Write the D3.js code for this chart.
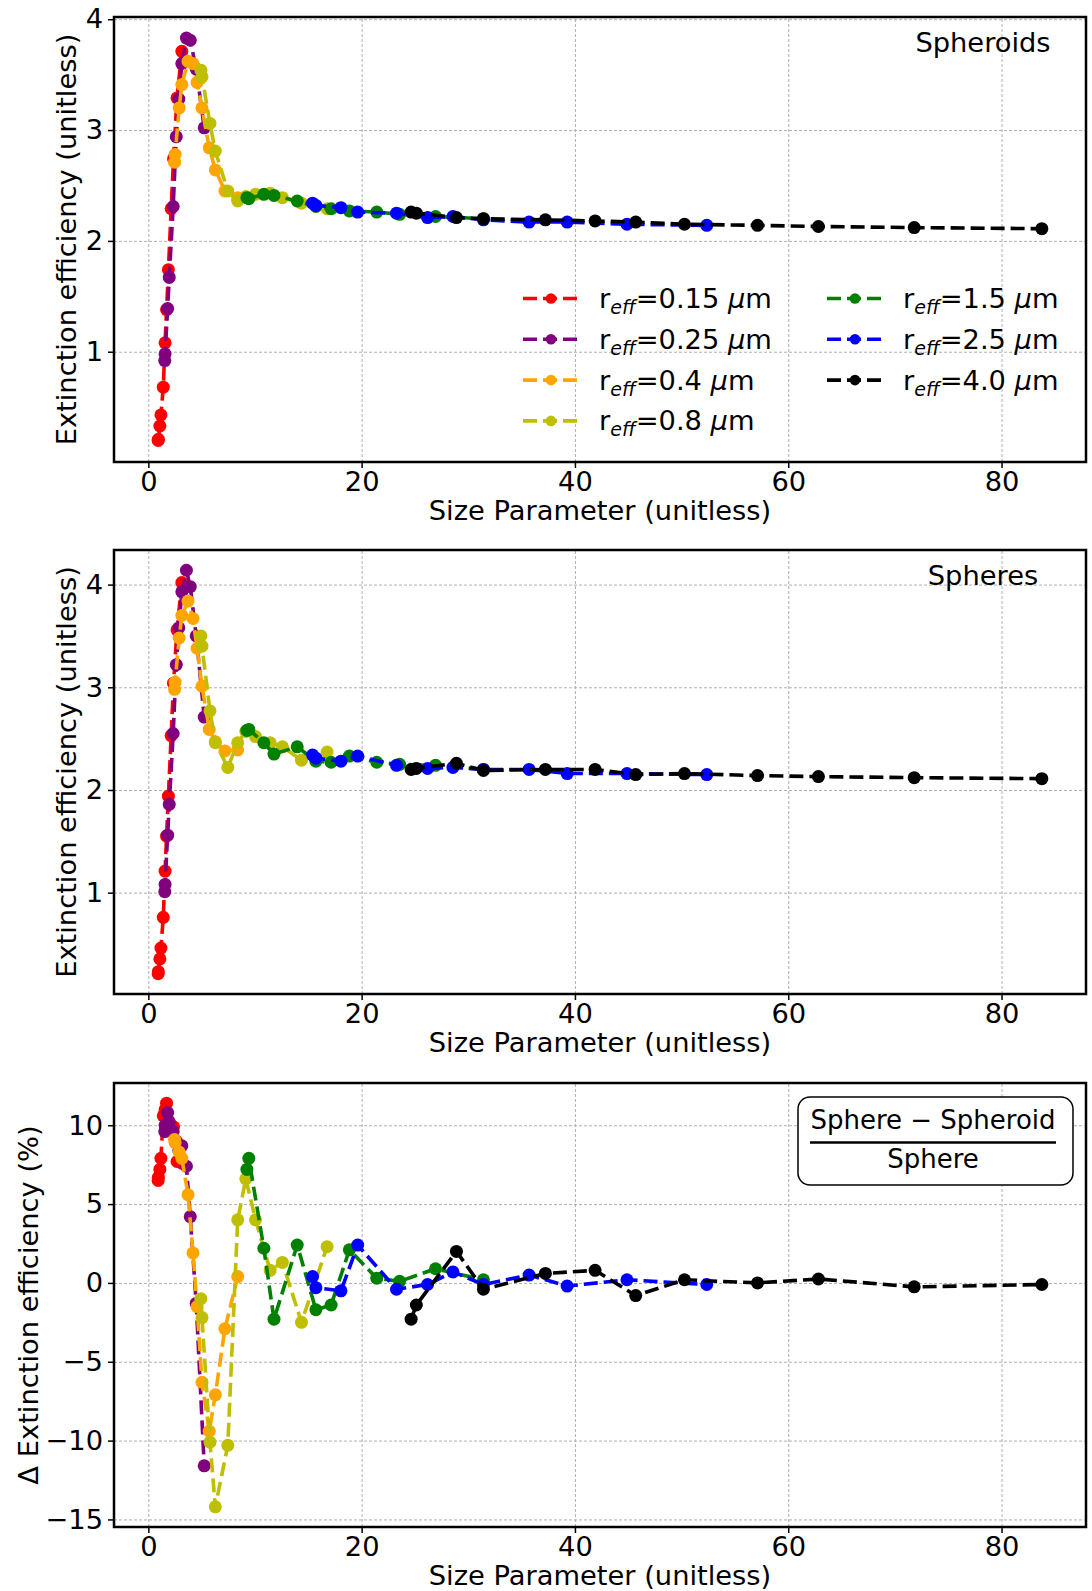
<!DOCTYPE html>
<html><head><meta charset="utf-8">
<script src="https://cdn.jsdelivr.net/npm/d3@7"></script>
<style>
body{margin:0;background:#fff}
text{font-family:"DejaVu Sans",sans-serif;fill:#000}
</style>
</head><body>
<svg id="chart" width="1092" height="1591"></svg>
<script>
// ---------- DATA ----------
const radiusLabels = ["0.15", "0.25", "0.4", "0.8", "1.5", "2.5", "4.0"];
const seriesColors = ["red", "purple", "orange", "#bfbf00", "green", "blue", "black"];

// size parameter per series
const x015 = [0.92, 0.94, 1.08, 1.18, 1.40, 1.57, 1.71, 1.88, 2.14, 2.36, 2.69, 3.14];
const x025 = [1.54, 1.57, 1.81, 1.96, 2.33, 2.62, 2.86, 3.14, 3.57, 3.93, 4.49, 5.24];
const x04  = [2.46, 2.51, 2.89, 3.14, 3.72, 4.19, 4.57, 5.03, 5.71, 6.28, 7.18, 8.38];
const x08  = [4.93, 5.03, 5.78, 6.28, 7.45, 8.38, 9.14, 10.05, 11.42, 12.57, 14.36, 16.76];
const x15  = [9.24, 9.42, 10.83, 11.78, 13.96, 15.71, 17.14, 18.85, 21.42, 23.56, 26.93, 31.42];
const x25  = [15.40, 15.71, 18.06, 19.63, 23.27, 26.18, 28.56, 31.42, 35.70, 39.27, 44.88, 52.36];
const x40  = [24.64, 25.13, 28.89, 31.42, 37.23, 41.89, 45.70, 50.27, 57.12, 62.83, 71.81, 83.78];

// extinction efficiency, spheroids
const spheroid015 = [0.20, 0.21, 0.33, 0.43, 0.68, 1.08, 1.38, 1.74, 2.29, 2.74, 3.29, 3.71];
const spheroid025 = [0.92, 0.98, 1.39, 1.67, 2.31, 2.94, 3.28, 3.60, 3.83, 3.81, 3.55, 3.02];
const spheroid04  = [2.71, 2.78, 3.20, 3.41, 3.62, 3.60, 3.43, 3.20, 2.84, 2.64, 2.45, 2.39];
const spheroid08  = [3.54, 3.48, 3.06, 2.81, 2.45, 2.36, 2.40, 2.42, 2.43, 2.39, 2.34, 2.29];
const spheroid15  = [2.39, 2.38, 2.42, 2.41, 2.36, 2.31, 2.29, 2.27, 2.26, 2.24, 2.22, 2.20];
const spheroid25  = [2.34, 2.32, 2.30, 2.26, 2.25, 2.21, 2.22, 2.19, 2.17, 2.17, 2.15, 2.14];
const spheroid40  = [2.26, 2.25, 2.21, 2.20, 2.19, 2.18, 2.17, 2.15, 2.14, 2.13, 2.12, 2.11];

// extinction efficiency, spheres
const sphere015 = [0.21, 0.23, 0.355, 0.46, 0.76, 1.21, 1.55, 1.94, 2.53, 3.04, 3.56, 4.02];
const sphere025 = [1.01, 1.08, 1.56, 1.86, 2.55, 3.22, 3.58, 3.93, 4.14, 3.98, 3.50, 2.71];
const sphere04  = [2.98, 3.05, 3.48, 3.70, 3.84, 3.67, 3.38, 3.01, 2.59, 2.47, 2.38, 2.39];
const sphere08  = [3.50, 3.40, 2.77, 2.46, 2.22, 2.46, 2.57, 2.52, 2.46, 2.42, 2.29, 2.37];
const sphere15  = [2.58, 2.59, 2.46, 2.35, 2.42, 2.28, 2.27, 2.33, 2.27, 2.25, 2.24, 2.20];
const sphere25  = [2.34, 2.31, 2.28, 2.33, 2.24, 2.21, 2.22, 2.20, 2.20, 2.16, 2.16, 2.15];
const sphere40  = [2.20, 2.21, 2.26, 2.19, 2.20, 2.20, 2.15, 2.16, 2.14, 2.13, 2.12, 2.11];

// relative difference (%)
const delta015 = [6.5, 6.7, 7.2, 7.9, 10.6, 11.0, 11.4, 10.3, 9.9, 9.9, 7.7, 7.6];
const delta025 = [9.6, 10.0, 10.8, 10.2, 9.6, 9.0, 8.4, 8.7, 7.4, 4.2, -1.3, -11.6];
const delta04  = [9.1, 8.9, 8.3, 7.9, 5.6, 1.9, -1.5, -6.3, -9.4, -7.1, -2.9, 0.4];
const delta08  = [-1.0, -2.2, -10.1, -14.2, -10.3, 4.0, 6.6, 4.0, 0.8, 1.3, -2.5, 2.3];
const delta15  = [7.2, 7.9, 2.2, -2.3, 2.4, -1.7, -1.4, 2.1, 0.3, 0.1, 0.9, 0.2];
const delta25  = [0.4, -0.3, -0.5, 2.4, -0.4, -0.1, 0.7, -0.1, 0.5, -0.2, 0.2, -0.1];
const delta40  = [-2.3, -1.4, 2.0, -0.4, 0.6, 0.8, -0.8, 0.2, 0.0, 0.25, -0.25, -0.1];

const xTickValues = [0, 20, 40, 60, 80];
const effTickValues = [1, 2, 3, 4];
const deltaTickValues = [-15, -10, -5, 0, 5, 10];

const xSeries = [x015, x025, x04, x08, x15, x25, x40];
const spheroidSeries = [spheroid015, spheroid025, spheroid04, spheroid08, spheroid15, spheroid25, spheroid40];
const sphereSeries = [sphere015, sphere025, sphere04, sphere08, sphere15, sphere25, sphere40];
const deltaSeries = [delta015, delta025, delta04, delta08, delta15, delta25, delta40];

// ---------- LAYOUT ----------
const svg = d3.select("#chart");
const plotLeft = 114, plotRight = 1086;
const FS = 27.3;
const LW = 3.6, DASH = "14,6", MR = 6.5;
const x = d3.scaleLinear().domain([-3.22, 87.92]).range([plotLeft, plotRight]);

const panels = [
  {top: 17, bottom: 462, domain: [0.005, 4.02], ticks: effTickValues, ys: spheroidSeries,
   ylabel: "Extinction efficiency (unitless)", ylabelX: 68, title: "Spheroids"},
  {top: 550, bottom: 994, domain: [0.013, 4.337], ticks: effTickValues, ys: sphereSeries,
   ylabel: "Extinction efficiency (unitless)", ylabelX: 68, title: "Spheres"},
  {top: 1083, bottom: 1527, domain: [-15.48, 12.68], ticks: deltaTickValues, ys: deltaSeries,
   ylabel: "\u0394 Extinction efficiency (%)", ylabelX: 30, title: null}
];

panels.forEach((p, pi) => {
  const y = d3.scaleLinear().domain(p.domain).range([p.bottom, p.top]);
  const g = svg.append("g");
  const h = p.bottom - p.top, w = plotRight - plotLeft;

  // grid
  const grid = g.append("g").attr("class", "grid");
  grid.append("g").attr("transform", `translate(0,${p.bottom})`)
    .call(d3.axisBottom(x).tickValues(xTickValues).tickSize(-h).tickFormat(""))
    .call(s => s.select(".domain").remove());
  grid.append("g").attr("transform", `translate(${plotLeft},0)`)
    .call(d3.axisLeft(y).tickValues(p.ticks).tickSize(-w).tickFormat(""))
    .call(s => s.select(".domain").remove());
  grid.selectAll("line").attr("stroke", "#b0b0b0").attr("stroke-width", 1).attr("stroke-dasharray", "3,2");

  // series
  const line = d3.line().x(d => x(d[0])).y(d => y(d[1]));
  xSeries.forEach((xs, si) => {
    const pts = xs.map((v, i) => [v, p.ys[si][i]]);
    g.append("path").datum(pts).attr("d", line)
      .attr("fill", "none").attr("stroke", seriesColors[si])
      .attr("stroke-width", LW).attr("stroke-dasharray", DASH);
    g.append("g").selectAll("circle").data(pts).join("circle")
      .attr("cx", d => x(d[0])).attr("cy", d => y(d[1])).attr("r", MR)
      .attr("fill", seriesColors[si]);
  });

  // axes
  const ax = g.append("g").attr("transform", `translate(0,${p.bottom})`)
    .call(d3.axisBottom(x).tickValues(xTickValues).tickSize(6).tickPadding(4).tickFormat(d3.format("d")));
  const ay = g.append("g").attr("transform", `translate(${plotLeft},0)`)
    .call(d3.axisLeft(y).tickValues(p.ticks).tickSize(6).tickPadding(5).tickFormat(d3.format("d")));
  [ax, ay].forEach(a => {
    a.select(".domain").remove();
    a.selectAll("line").attr("stroke", "#000").attr("stroke-width", 1.5);
    a.selectAll("text").attr("font-size", FS).attr("font-family", "DejaVu Sans");
  });

  // frame
  g.append("rect").attr("x", plotLeft).attr("y", p.top).attr("width", w).attr("height", h)
    .attr("fill", "none").attr("stroke", "#000").attr("stroke-width", 2.5);

  // labels
  g.append("text").attr("x", (plotLeft + plotRight) / 2).attr("y", p.bottom + 50)
    .attr("text-anchor", "middle").attr("dominant-baseline", "middle").attr("font-size", FS)
    .text("Size Parameter (unitless)");
  g.append("text").attr("transform", `translate(${p.ylabelX},${(p.top + p.bottom) / 2}) rotate(-90)`)
    .attr("text-anchor", "middle").attr("dominant-baseline", "middle").attr("font-size", FS)
    .text(p.ylabel);
  if (p.title) {
    g.append("text").attr("x", 983).attr("y", p.top + 27)
      .attr("text-anchor", "middle").attr("dominant-baseline", "middle").attr("font-size", FS)
      .text(p.title);
  }

  // legend in first panel
  if (pi === 0) {
    const lg = g.append("g");
    radiusLabels.forEach((r, i) => {
      const col = i < 4 ? 0 : 1, row = i < 4 ? i : i - 4;
      const hx = col === 0 ? 523 : 827, tx = col === 0 ? 599 : 903;
      const cy = 298.5 + row * 40.8;
      lg.append("line").attr("x1", hx).attr("x2", hx + 56).attr("y1", cy).attr("y2", cy)
        .attr("stroke", seriesColors[i]).attr("stroke-width", LW).attr("stroke-dasharray", DASH);
      lg.append("circle").attr("cx", hx + 28).attr("cy", cy).attr("r", 5.3).attr("fill", seriesColors[i]);
      const t = lg.append("text").attr("x", tx).attr("y", cy + 9.5).attr("font-size", FS);
      t.append("tspan").text("r");
      t.append("tspan").attr("font-style", "italic").attr("font-size", 19).attr("dy", 6).text("eff");
      t.append("tspan").attr("dy", -6).text("=" + r + " ");
      t.append("tspan").attr("font-style", "italic").text("\u03bc");
      t.append("tspan").text("m");
    });
  }

  // ratio box in third panel
  if (pi === 2) {
    const bx = g.append("g");
    bx.append("rect").attr("x", 798).attr("y", 1097).attr("width", 275).attr("height", 88)
      .attr("rx", 12).attr("fill", "#fff").attr("stroke", "#000").attr("stroke-width", 1.5);
    bx.append("text").attr("x", 933).attr("y", 1121).attr("text-anchor", "middle")
      .attr("dominant-baseline", "middle").attr("font-size", 26).text("Sphere \u2212 Spheroid");
    bx.append("line").attr("x1", 810).attr("x2", 1056).attr("y1", 1142.5).attr("y2", 1142.5)
      .attr("stroke", "#000").attr("stroke-width", 2.5);
    bx.append("text").attr("x", 933).attr("y", 1160).attr("text-anchor", "middle")
      .attr("dominant-baseline", "middle").attr("font-size", 26).text("Sphere");
  }
});
</script>
</body></html>
